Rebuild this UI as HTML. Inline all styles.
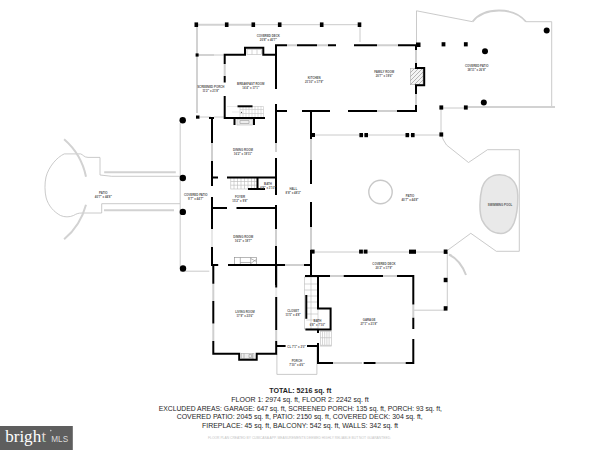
<!DOCTYPE html>
<html><head><meta charset="utf-8">
<style>
html,body{margin:0;padding:0;background:#fff;}
body{width:600px;height:450px;overflow:hidden;position:relative;}
svg{position:absolute;left:0;top:0;font-family:"Liberation Sans",sans-serif;}
.w{stroke:#000;stroke-width:2;fill:none;stroke-linecap:butt;}
.win{stroke:#cfcfcf;stroke-width:2;fill:none;}
.win2{stroke:#e8e8e8;stroke-width:2;fill:none;}
.g{stroke:#d2d2d2;stroke-width:2;fill:none;}
.t{stroke:#bdbdbd;stroke-width:0.8;fill:none;}
.lbl{font-size:2.9px;fill:#555;font-weight:bold;text-anchor:middle;}
</style></head><body>
<svg width="600" height="450" viewBox="0 0 600 450">
<g class="t"><path d="M253,24.7H360"/><path d="M360,25V42"/><path d="M214,55H225"/><path d="M313,135H441"/><path d="M441,108V135"/><path d="M441,108H466"/><path d="M276.9,354V374.4H316.9V346"/><path d="M313,252H445.5"/><path d="M447.3,252V308.4"/><path d="M413.3,310.2H445.5"/><path d="M445.6,251.7L470.8,233.3L496.3,251.3H519.3V149.7H487.5L468.5,162.5L446.5,145Q443,140 441.3,135"/><path d="M416.5,44V10.8L472.5,21.7"/><path d="M526,21.7H551.7V107"/><path d="M180.2,123V268.5"/><path d="M200,117H211M214,117H225"/><path d="M180,271.2H209.3"/><path d="M100,157.5V175L111.7,176.3H180"/><path d="M101.7,213V203.7H180"/><path d="M64.3,153.9H80.6C83,154.5 84,157.4 88,157.4H100"/><path d="M64.3,153.9C57,157 48.5,167 46,177C44.6,183 44.6,192 46.2,198C48.5,206 54,212 60.5,215.5C64.5,217.3 69.5,217.3 73.5,215.5C76,214 78,213 82,213H101.7"/></g>
<g class="g"><path d="M196.5,24.7H253"/><path d="M197,25V113"/><path d="M197,55H214"/><path d="M466,107H555"/><path d="M104.2,172.2H175.8M104,210.3H174"/><path d="M64.1,139.3A67.5,67.5 0 0 1 86,176.7"/><path d="M86,204.7A67.5,67.5 0 0 1 64.1,239.3"/></g>
<rect x="410.5" y="68.5" width="12.5" height="16" fill="#f4f4f4" stroke="#aaa" stroke-width="0.6"/>
<path d="M410.5,72.5L414.5,68.5M410.5,76.5L418.5,68.5M410.5,80.5L422.5,68.5M410.5,84.5L423,72M414.5,84.5L423,76M418.5,84.5L423,80" stroke="#666" stroke-width="0.45"/>
<g stroke="#bbb" stroke-width="0.6" fill="none">
<rect x="230.8" y="177.5" width="26.7" height="11.5"/>
<path d="M234,177.5V189M237.5,177.5V189M241,177.5V189M244.5,177.5V189M248,177.5V189M251.5,177.5V189M254.5,177.5V189M230.8,181.5H257.5M230.8,185.2H257.5"/>
<path d="M240,106.5H263.5V117M240,106V118M243,106V118M246,106V118M249,106V118M252,106V118M255,106V118M258,106V118M261,106V118M240,109.5H263.5M240,113.5H263.5" stroke="#c6c6c6"/>
<path d="M227,106.5H237M232,112H240" stroke="#ddd"/>
<circle cx="241.5" cy="112.3" r="0.6" fill="#333" stroke="none"/>
<rect x="237" y="119.5" width="15.5" height="5.5" fill="#eee" stroke="#bbb"/>
<path d="M240,120.5H249V123.5H240Z" stroke="#999"/>
<rect x="247" y="49.5" width="14.5" height="5"/>
<path d="M252,49.5V54.5M257,49.5V54.5"/>
<g stroke="#888" stroke-width="0.6"><rect x="234.3" y="257.5" width="22" height="7"/>
<path d="M240.3,257.5V264.5M250.7,257.5V264.5M240.3,262.5H250.7M250.7,258.5L256.3,261.5M250.7,263.5L256.3,259.5"/></g>
<rect x="241.5" y="353.5" width="12.5" height="5" fill="#ececec" stroke="#aaa"/>
<path d="M244,353.5V358.5M249,354.5H251.5V357.5H249ZM252.5,353.5V358.5" stroke="#999"/>
<rect x="304.4" y="277" width="13.6" height="52"/>
<path d="M304.4,284H318M304.4,290H318M306.3,296H318M306.3,302H318M306.3,308H318M306.3,314H318M306.3,320H318M311,277V329"/>
<rect x="320.3" y="331.3" width="11" height="14.7"/>
<path d="M322.5,331.3V346M324.7,331.3V346M326.9,331.3V346M329.1,331.3V346M320.3,337.7H331.3"/>
<path d="M320.3,345.5H331.3" stroke="#d0d0d0" stroke-width="1.5"/>
</g>
<path d="M449,254.5Q460.5,260 466,275" stroke="#cfcfcf" stroke-width="2" fill="none"/>
<path d="M472.5,21.7C480,12 490,10.5 499,10.5C508,10.5 518,12 526,21.7" stroke="#cfcfcf" stroke-width="1.8" fill="none"/>
<path d="M499.5,174.7C508,174.7 517.5,180 517.8,195C518,205 517,215 514,223C511,230 506,233.5 501,233.5C493,233.5 486,228 482,220C479,212 479.5,198 482,188C485,179 492,174.7 499.5,174.7Z" fill="#e9e9e9" stroke="#cdcdcd" stroke-width="1.5"/>
<circle cx="380.5" cy="192" r="11.7" fill="none" stroke="#c8c8c8" stroke-width="1.4"/>
<g class="win"><path d="M224.7,64V76"/><path d="M287,45.3H297M317,45.3H328M377,45.3H398M416,50V63M416,94V105M377,111H397"/><path d="M276,143V152M276,229V246M311,139V160M311,227V250"/><path d="M212,143V161M213.3,283.8V301M213.3,323.5V341M276.2,330V341M285,265H304"/><path d="M330,276H343.7M383,276H397M413.3,304.4V317.8M333,363H362M376,363H405"/></g>
<g class="win2"><path d="M276.2,287.5V297"/><path d="M212,229V247"/></g>
<g class="w"><path d="M224.7,64V54.7H245V47.8H263.3V54.7H276"/><path d="M224.7,76V82.5"/><path d="M224.7,96V118H265"/><path d="M237.5,106.3H252.5"/><path d="M234.5,118V125M254,118V125"/><path d="M276,89V45.3H287M297,45.3H317M328,45.3H336M354,45.3H377M398,45.3H416V50M416,63V68H424.2V85.3H416V94M416,105V111H397M377,111H348M330,111H302M287,111H276V104"/><path d="M276,104V143M276,158V195M276,205V229M276,246V285"/><path d="M311,111V139M311,160V184M311,202V227M311,250V276"/><path d="M209,118H214M212,118V143M212,161V186M212,197V229M212,247V265H218.2M228,265H285M304,265H311"/><path d="M212,177.5H218M227,177.5H276M212,208H227M236.5,208H276"/><path d="M248,189H265M257.5,189V177.5"/><path d="M213.3,265V283.8M213.3,301V323.5M213.3,341V353.8H239.2V359.7H256.7V353.8H276.2V341M276.2,330V297M276.2,287.5V265"/><path d="M276,346H285.6M307,346H318"/><path d="M311,252V276M304,265H311"/><path d="M305,276H330M343.7,276H383M397,276H413.3V304.4M413.3,317.8V329M413.3,339V363H405.6M375.6,363H363.7M333,363H318V343M318,333V329.4M305.4,329.4H330.6V308.5H318V276"/><path d="M306.3,295V318.8"/></g>
<g fill="#000"><rect x="194.5" y="22.4" width="3.6" height="4.6"/><rect x="224.9" y="22.4" width="3.6" height="4.6"/><rect x="251.5" y="22.4" width="3.6" height="4.6"/><rect x="277.9" y="22.4" width="3.6" height="4.6"/><rect x="319.9" y="22.4" width="3.6" height="4.6"/><rect x="357.7" y="22.4" width="3.6" height="4.6"/><rect x="195.6" y="53.4" width="3" height="3.2"/><rect x="416" y="42.5" width="4.5" height="4.5"/><rect x="311" y="133" width="4" height="4"/><rect x="359.4" y="133" width="3.6" height="4.2"/><rect x="364.4" y="133" width="3.6" height="4.2"/><rect x="405.5" y="133" width="3.6" height="4.2"/><rect x="411.0" y="133" width="3.6" height="4.2"/><rect x="439.4" y="132.4" width="3.8" height="4.2"/><rect x="439.4" y="105.4" width="3.8" height="4.2"/><rect x="463.9" y="105.4" width="3.8" height="4.2"/><rect x="441.6" y="42.2" width="3.8" height="4.2"/><rect x="463.9" y="42.2" width="3.8" height="4.2"/><rect x="310.6" y="249.6" width="4" height="4"/><rect x="359.1" y="249.6" width="3.8" height="4"/><rect x="363.7" y="249.6" width="3.8" height="4"/><rect x="409" y="249.6" width="7" height="4.2"/><rect x="443.7" y="249.5" width="3.8" height="4.4"/><rect x="443.7" y="277.8" width="3.8" height="4.4"/><rect x="443.7" y="306.2" width="3.8" height="4.4"/><circle cx="485" cy="51.2" r="3"/><circle cx="546.7" cy="30.6" r="3"/><circle cx="483.8" cy="102.5" r="3"/><circle cx="182.8" cy="178" r="3.2"/><circle cx="182.8" cy="211.9" r="3.2"/><circle cx="182.7" cy="120.3" r="3.2"/><circle cx="183" cy="268.5" r="3.2"/><path d="M196,115.5H199.5V118.7H196Z"/></g>
<g class="lbl">
<text x="268.3" y="37.3">COVERED DECK</text><text x="268.3" y="41.3">20'8&quot; x 40'7&quot;</text>
<text x="210.8" y="88.0">SCREENED PORCH</text><text x="210.8" y="92.0">11'2&quot; x 21'8&quot;</text>
<text x="250.8" y="84.8">BREAKFAST ROOM</text><text x="250.8" y="88.8">16'4&quot; x 17'1&quot;</text>
<text x="314.2" y="78.5">KITCHEN</text><text x="314.2" y="82.5">21'10&quot; x 17'9&quot;</text>
<text x="384.2" y="73.2">FAMILY ROOM</text><text x="384.2" y="77.2">20'7&quot; x 19'6&quot;</text>
<text x="476.7" y="67.3">COVERED PATIO</text><text x="476.7" y="71.3">38'11&quot; x 26'8&quot;</text>
<text x="243" y="150.5">DINING ROOM</text><text x="243" y="154.5">16'2&quot; x 19'11&quot;</text>
<text x="240" y="197.8">FOYER</text><text x="240" y="201.8">15'2&quot; x 9'8&quot;</text>
<text x="268" y="184.5">BATH</text><text x="268" y="188.5">6'8&quot; x 3'10&quot;</text>
<text x="293.3" y="189.5">HALL</text><text x="293.3" y="193.5">8'8&quot; x 48'3&quot;</text>
<text x="195.8" y="195.7">COVERED PATIO</text><text x="195.8" y="199.7">9'7&quot; x 44'7&quot;</text>
<text x="103.3" y="194.0">PATIO</text><text x="103.3" y="198.0">40'7&quot; x 44'8&quot;</text>
<text x="243.3" y="238.2">DINING ROOM</text><text x="243.3" y="242.2">16'2&quot; x 18'7&quot;</text>
<text x="245" y="313.2">LIVING ROOM</text><text x="245" y="317.2">17'9&quot; x 23'6&quot;</text>
<text x="293.1" y="311.5">CLOSET</text><text x="293.1" y="315.5">11'5&quot; x 4'8&quot;</text>
<text x="317.5" y="322.0">BATH</text><text x="317.5" y="326.0">6'8&quot; x 7'10&quot;</text>
<text x="369" y="320.5">GARAGE</text><text x="369" y="324.5">27'1&quot; x 21'8&quot;</text>
<text x="296.9" y="362.0">PORCH</text><text x="296.9" y="366.0">7'10&quot; x 4'6&quot;</text>
<text x="384" y="264.5">COVERED DECK</text><text x="384" y="268.5">20'2&quot; x 17'9&quot;</text>
<text x="410" y="196.5">PATIO</text><text x="410" y="200.5">40'7&quot; x 44'8&quot;</text>
<text x="500" y="205.5">SWIMMING POOL</text>
<text x="296.5" y="347.5">CL 7'1&quot; x 2'0&quot;</text></g>

<g fill="#1e1e1e" text-anchor="middle" font-size="7.4">
<text x="300.3" y="393" font-weight="bold" textLength="62" lengthAdjust="spacingAndGlyphs">TOTAL: 5216 sq. ft</text>
<text x="300" y="402" textLength="137.4" lengthAdjust="spacingAndGlyphs">FLOOR 1: 2974 sq. ft, FLOOR 2: 2242 sq. ft</text>
<text x="300.35" y="410.7" textLength="283.3" lengthAdjust="spacingAndGlyphs">EXCLUDED AREAS: GARAGE: 647 sq. ft, SCREENED PORCH: 135 sq. ft, PORCH: 93 sq. ft,</text>
<text x="299.7" y="419.2" textLength="246" lengthAdjust="spacingAndGlyphs">COVERED PATIO: 2045 sq. ft, PATIO: 2150 sq. ft, COVERED DECK: 304 sq. ft,</text>
<text x="300" y="427.5" textLength="196" lengthAdjust="spacingAndGlyphs">FIREPLACE: 45 sq. ft, BALCONY: 542 sq. ft, WALLS: 342 sq. ft</text>
</g>
<text x="299.5" y="438.8" font-size="3.6" fill="#c4c4c4" text-anchor="middle" textLength="183" lengthAdjust="spacingAndGlyphs">FLOOR PLAN CREATED BY CUBICASA APP. MEASUREMENTS DEEMED HIGHLY RELIABLE BUT NOT GUARANTEED.</text>
<defs><linearGradient id="tg" x1="0" y1="0" x2="0" y2="1"><stop offset="0" stop-color="#e08070"/><stop offset="0.5" stop-color="#e8e8e8"/><stop offset="1" stop-color="#70b090"/></linearGradient></defs>
<rect x="0" y="426" width="72.8" height="24" fill="#5e5e5e"/>
<text x="5.2" y="441.6" font-family="Liberation Serif, serif" font-size="16.5" fill="#fff" textLength="36" lengthAdjust="spacingAndGlyphs">brigh</text>
<text x="41.5" y="441.6" font-family="Liberation Serif, serif" font-size="16.5" fill="url(#tg)">t</text>
<circle cx="50.8" cy="430.6" r="0.8" fill="#ccc"/>
<text x="51.3" y="441.9" font-size="8.4" fill="#dcdcdc" textLength="16.8" lengthAdjust="spacingAndGlyphs">MLS</text>

</svg>
</body></html>
